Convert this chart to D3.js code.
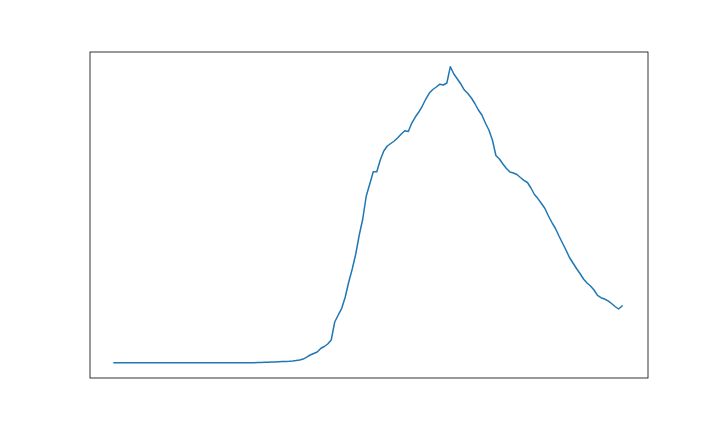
<!DOCTYPE html>
<html>
<head>
<meta charset="utf-8">
<script src="https://cdn.jsdelivr.net/npm/d3@7"></script>
<style>
  html, body { margin: 0; padding: 0; background: #ffffff; }
  svg { display: block; }
</style>
</head>
<body>
<script>
// Daily series values
const values = [
  0,0,0,0,0,0,0,0,0,0,
  0,0,0,0,0,0,0,0,0,0,
  0,0,0,0,0,0,0,0,0,0,
  0,0,0,0,0,0,0,0,0,0,
  0,
  0.2,0.3,0.4,0.5,0.6,0.7,0.9,1.1,1.3,
  1.5,1.8,2.2,2.7,3.6,5.5,7.7,9.2,10.7,14.2,
  16.2,18.7,22.7,40.7,47.7,54.4,65.7,80.7,93.7,108.7,
  127.7,143.7,166.7,178.7,191,191,202.7,211.7,216.7,219.2,
  221.7,225,228.7,232,231.2,239.7,245.7,250.7,256.7,263.7,
  269.7,273.2,275.7,278.5,277.7,279.7,296,288.7,283.7,278.7,
  272.7,269.2,264.7,259.2,252.7,247.7,239.7,232.7,222.7,207.2,
  203.7,198.7,194.2,190.7,189.7,188.2,185.2,182.4,180.2,174.7,
  168.2,164.1,159.2,154.2,146.7,140.2,134.2,126.7,119.7,112.7,
  105.2,99.7,94.2,89.2,83.7,79.7,76.7,72.7,67.4,65,
  63.7,61.9,59.2,56.2,53.7,56.7
];
const days = d3.range(values.length);

const W = 720, H = 432;
const plot = { left: 90, right: 648, top: 52, bottom: 378 };

const svg = d3.select("body").append("svg")
  .attr("width", W).attr("height", H);

const n = values.length;
const xPad = 0.05 * (n - 1) / 0.9;
const x = d3.scaleLinear()
  .domain([-xPad * 0.85, (n - 1) + xPad * 0.92])
  .range([plot.left, plot.right]);

const vmax = d3.max(values), vmin = d3.min(values);
const span = vmax - vmin;
const y = d3.scaleLinear()
  .domain([vmin - span * 0.0517, vmax + span * 0.0497])
  .range([plot.bottom, plot.top]);

const line = d3.line()
  .x((d, i) => x(days[i]))
  .y(d => y(d));

svg.append("path")
  .datum(values)
  .attr("fill", "none")
  .attr("stroke", "#1f77b4")
  .attr("stroke-width", 1.5)
  .attr("stroke-linejoin", "round")
  .attr("stroke-linecap", "square")
  .attr("d", line);

svg.append("rect")
  .attr("x", plot.left)
  .attr("y", plot.top)
  .attr("width", plot.right - plot.left)
  .attr("height", plot.bottom - plot.top)
  .attr("fill", "none")
  .attr("stroke", "#000000")
  .attr("stroke-width", 0.8);
</script>
</body>
</html>
